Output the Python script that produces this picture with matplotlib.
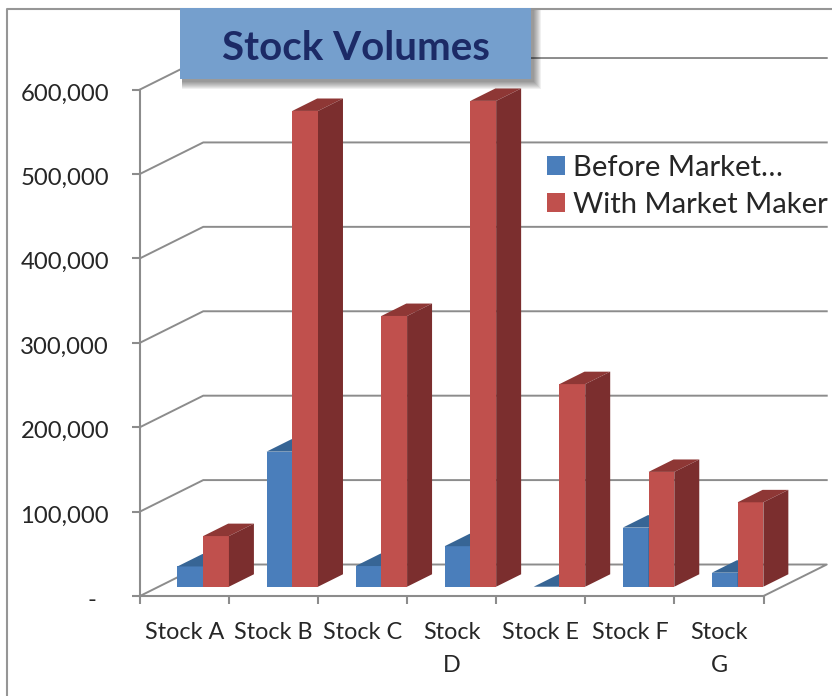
import numpy as np
import matplotlib
matplotlib.use("Agg")
import matplotlib.pyplot as plt
from matplotlib.patches import Polygon, Rectangle, Patch
from matplotlib.lines import Line2D
from matplotlib.transforms import Affine2D, ScaledTranslation
from matplotlib.ticker import FuncFormatter

categories = ["Stock A", "Stock B", "Stock C", "Stock\nD", "Stock E", "Stock F", "Stock\nG"]
before_market = [24000, 160000, 24500, 48000, 0, 70000, 16600]
with_market = [60000, 563600, 320700, 575500, 240000, 136000, 100000]
y_ticks = [0, 100000, 200000, 300000, 400000, 500000, 600000]
series_names = ["Before Market…", "With Market Maker"]
title = "Stock Volumes"

W, H = 832, 696
plt.rcParams["font.family"] = ["Lato", "DejaVu Sans"]
fig = plt.figure(figsize=(W / 100, H / 100), dpi=100, facecolor="white")
ax = fig.add_axes([140 / W, 1 - 596 / H, (763.5 - 140) / W, (596 - 89.5) / H])
ax.set_xlim(0, 7)
ax.set_ylim(0, 600000)
ax.patch.set_visible(False)
px = Affine2D().scale(1, -1).translate(0, H)

GRID = "#8c8c8c"
TEXT = "#262626"
BLUE = ("#4a7ebb", "#376595", "#2f5680")
RED = ("#c0504d", "#8e3735", "#7b2e2e")

# 3-D wall geometry, in data units
DX, DY = 0.71, 37300
FRONT = 0.295
BAR_D = 0.395
BAR_W = 0.289

for v in y_ticks[1:]:
    ax.plot([0, DX, 7 + DX], [v, v + DY, v + DY], color=GRID, lw=1.4, clip_on=False, zorder=1)
ax.plot([0, DX, 7 + DX, 7], [0, DY, DY, 0], color=GRID, lw=1.4, clip_on=False, zorder=1)

# bars: front faces through ax.bar, top and side faces as polygons
fx, fy = DX * FRONT, DY * FRONT
bx, by = DX * BAR_D, DY * BAR_D
z = 3
centers = np.arange(len(categories)) + 0.5
for i, c in enumerate(centers):
    for vals, cols, left in ((before_market, BLUE, c + fx - BAR_W),
                             (with_market, RED, c + fx)):
        v = vals[i]
        ax.bar(left, v, width=BAR_W, bottom=fy, align="edge", color=cols[0],
               clip_on=False, zorder=z, linewidth=0)
        r = left + BAR_W
        t = fy + v
        ax.add_patch(Polygon([(left, t), (r, t), (r + bx, t + by), (left + bx, t + by)],
                             closed=True, fc=cols[1], lw=0, clip_on=False, zorder=z))
        ax.add_patch(Polygon([(r, fy), (r + bx, fy + by), (r + bx, t + by), (r, t)],
                             closed=True, fc=cols[2], lw=0, clip_on=False, zorder=z))
        z += 1

# axes
for s in ("top", "right"):
    ax.spines[s].set_visible(False)
for s in ("left", "bottom"):
    ax.spines[s].set_color(GRID)
    ax.spines[s].set_linewidth(1.5)
    ax.spines[s].set_zorder(2)
ax.set_yticks(y_ticks)
ax.yaxis.set_major_formatter(FuncFormatter(lambda v, _: f"{int(v):,}" if v else "-  "))
ax.tick_params(axis="y", length=5.8, width=1.5, color=GRID, labelcolor=TEXT, labelsize=17.2, pad=16.5)
ax.set_xticks(np.arange(8))
ax.set_xticklabels([])
ax.set_xticks(centers, minor=True)
ax.set_xticklabels(categories, minor=True, linespacing=1.75)
ax.tick_params(axis="x", which="major", length=5.8, width=1.5, color=GRID)
ax.tick_params(axis="x", which="minor", length=0, labelcolor=TEXT, labelsize=16.8, pad=18.5)
ax.xaxis.set_tick_params(which="minor", top=False)
shift = ScaledTranslation(0, -2.5 / 100, fig.dpi_scale_trans)
for lab in ax.get_yticklabels():
    lab.set_transform(lab.get_transform() + shift)

# chart frame
fig.add_artist(Line2D([7, 7, 832], [696, 8.5, 8.5], color="#969696", lw=1.5,
                      transform=px, zorder=0))

# title box with a soft shadow
for k in range(8, 0, -1):
    fig.add_artist(Rectangle((180 + 1.5, 8 + 1.5), 351 + k, 71 + k, transform=px,
                             fc="black", ec="none", alpha=0.06, zorder=9))
fig.add_artist(Rectangle((180, 8), 351, 71, transform=px, fc="#759fcd", ec="none", zorder=10))
fig.text(355.5, 48, title, transform=px, ha="center", va="center", fontsize=29,
         fontweight="bold", color="#1c2a66", zorder=11)

# legend
handles = [Patch(fc=BLUE[0], label=series_names[0]), Patch(fc=RED[0], label=series_names[1])]
leg = fig.legend(handles=handles, loc="upper left", bbox_to_anchor=(547 / W, 1 - 155 / H),
                 frameon=False, fontsize=21.1, labelcolor=TEXT, handlelength=0.62, handleheight=0.62,
                 handletextpad=0.26, labelspacing=0.37, borderpad=0, borderaxespad=0)

fig.savefig("out.png", dpi=100)
